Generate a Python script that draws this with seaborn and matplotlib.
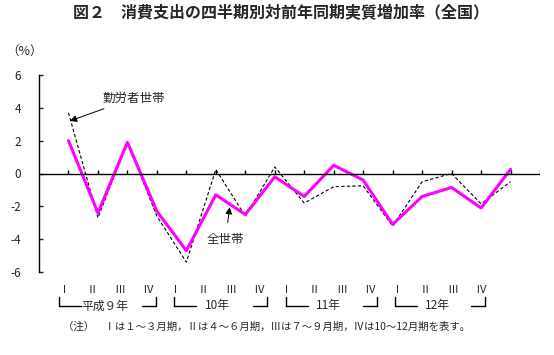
import numpy as np
import pandas as pd
import matplotlib.pyplot as plt
import seaborn as sns

# quarterly real change vs same quarter of previous year (%)
quarters = ['Ⅰ', 'Ⅱ', 'Ⅲ', 'Ⅳ'] * 4
years = ['平成９年', '10年', '11年', '12年']
all_households = [2.0, -2.4, 1.9, -2.3, -4.7, -1.3, -2.5, -0.2,
                  -1.4, 0.5, -0.4, -3.1, -1.4, -0.85, -2.1, 0.25]
worker_households = [3.7, -2.7, 1.9, -2.6, -5.4, 0.25, -2.6, 0.4,
                     -1.8, -0.8, -0.75, -3.2, -0.5, 0.0, -1.85, -0.5]

sns.set_style('white')
plt.rcParams['font.family'] = ['Noto Sans CJK JP', 'DejaVu Sans']

pos = np.arange(1, 17)
df = pd.DataFrame({'x': np.concatenate([pos, pos]),
                   'v': all_households + worker_households,
                   's': ['全世帯'] * 16 + ['勤労者世帯'] * 16})

fig = plt.figure(figsize=(5.54, 3.55), dpi=100)
ax = fig.add_axes([39 / 554, 1 - 272 / 355, 501 / 554, 197 / 355])

sns.lineplot(data=df[df.s == '勤労者世帯'], x='x', y='v', ax=ax, color='black',
             lw=0.8, dashes=False, linestyle=(0, (3, 2)), legend=False)
sns.lineplot(data=df[df.s == '全世帯'], x='x', y='v', ax=ax, color='#ff00ff',
             lw=2.2, legend=False)

ax.set_xlim(0, 17)
ax.set_ylim(-6, 6)
ax.axhline(0, color='black', lw=1)
ax.vlines(np.arange(1, 18), 0, 0.2, color='black', lw=1)
for s in ['top', 'right', 'bottom']:
    ax.spines[s].set_visible(False)
ax.spines['left'].set_linewidth(1)
ax.spines['left'].set_color('black')
ax.set_xticks([])
ax.set_yticks(range(-6, 7, 2))
ax.set_yticklabels(['-6', '-4', '-2', '0', '2', '4', '6'])
ax.tick_params(axis='y', direction='in', length=3, width=1, pad=13, labelsize=8.5,
               left=True)
ax.set_xlabel('')
ax.set_ylabel('')

ax.annotate('勤労者世帯', xy=(1.05, 3.2), xytext=(2.15, 4.6), fontsize=9,
            va='center', ha='left',
            arrowprops=dict(arrowstyle='-|>', color='black', lw=0.7,
                            shrinkA=2, shrinkB=0, mutation_scale=10))
ax.annotate('全世帯', xy=(6.47, -2.05), xytext=(6.33, -4.0), fontsize=9,
            va='center', ha='center',
            arrowprops=dict(arrowstyle='-|>', color='black', lw=0.7,
                            shrinkA=5, shrinkB=0, mutation_scale=10))

fig.text(281 / 554, 1 - 13 / 355, '図２　消費支出の四半期別対前年同期実質増加率（全国）',
         ha='center', va='center', fontsize=11.5, fontweight='bold')
fig.text(25 / 554, 1 - 51 / 355, '（%）', ha='center', va='center', fontsize=9)

# quarter labels under the plot
for i, q in enumerate(quarters):
    fig.text((64 + 27.8 * i) / 554, 1 - 290 / 355, q, ha='center', va='center',
             fontsize=8)

# year brackets
lefts = [59, 174, 286, 395]
rights = [156, 267, 377, 485]
yb_top = 1 - 297 / 355
yb = 1 - 306 / 355
for l, r, y in zip(lefts, rights, years):
    c = (l + r) / 2
    fig.add_artist(plt.Line2D([l / 554, l / 554], [yb_top, yb], color='black', lw=1))
    fig.add_artist(plt.Line2D([r / 554, r / 554], [yb_top, yb], color='black', lw=1))
    fig.add_artist(plt.Line2D([l / 554, (l + 22) / 554], [yb, yb], color='black', lw=1))
    fig.add_artist(plt.Line2D([(r - 14) / 554, r / 554], [yb, yb], color='black', lw=1))
    fig.text((c - 3) / 554, yb, y, ha='center', va='center', fontsize=8.5)

fig.text(267 / 554, 1 - 327 / 355,
         '（注）　Ⅰは１～３月期，Ⅱは４～６月期，Ⅲは７～９月期，Ⅳは10～12月期を表す。',
         ha='center', va='center', fontsize=7.5)

fig.savefig('out.png', dpi=100)
